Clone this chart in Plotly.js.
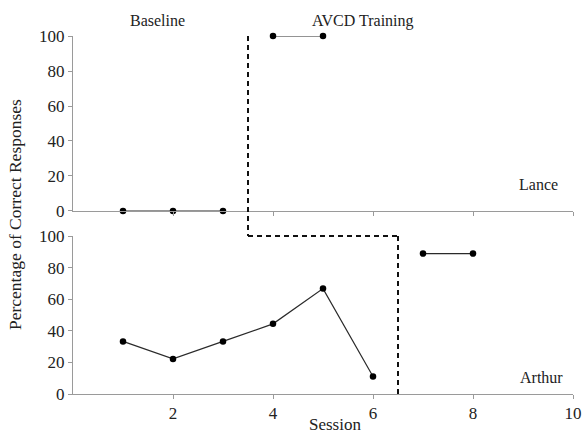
<!DOCTYPE html>
<html>
<head>
<meta charset="utf-8">
<script src="https://cdn.plot.ly/plotly-3.0.1.min.js"></script>
<style>html,body{margin:0;padding:0;background:#fff;}#chart{width:584px;height:436px;}</style>
</head>
<body>
<div id="chart"></div>
<script>
// Data
const sessions = [1, 2, 3, 4, 5, 6, 7, 8];
const lanceBaselineX = [1, 2, 3];
const lanceBaselineY = [0, 0, 0];
const lanceTrainingX = [4, 5];
const lanceTrainingY = [100, 100];
const arthurBaselineX = [1, 2, 3, 4, 5, 6];
const arthurBaselineY = [33.3, 22.2, 33.3, 44.4, 66.7, 11.1];
const arthurTrainingX = [7, 8];
const arthurTrainingY = [88.9, 88.9];
const phaseChangeLance = 3.5;
const phaseChangeArthur = 6.5;
const xTickVals = [2, 4, 6, 8, 10];
const yTickVals = [0, 20, 40, 60, 80, 100];
const phaseLabels = ["Baseline", "AVCD Training"];
const participants = ["Lance", "Arthur"];

const FONT = "Liberation Serif, Times New Roman, serif";
const axisGrey = "#9a9a9a";
const yRange = [0, 100];
const topDomain = [0.5112, 1];
const botDomain = [0, 0.4413];

function toPaper(domain, v) {
  return domain[0] + (v - yRange[0]) / (yRange[1] - yRange[0]) * (domain[1] - domain[0]);
}

function seg(x, y, xa, ya) {
  return {
    x: x, y: y, xaxis: xa, yaxis: ya, type: 'scatter', mode: 'lines+markers',
    line: {color: '#2a2a2a', width: 1.2},
    marker: {color: '#000', size: 6.5},
    cliponaxis: false, showlegend: false, hoverinfo: 'x+y'
  };
}

const traces = [
  seg(lanceBaselineX, lanceBaselineY, 'x2', 'y2'),
  seg(lanceTrainingX, lanceTrainingY, 'x2', 'y2'),
  seg(arthurBaselineX, arthurBaselineY, 'x', 'y'),
  seg(arthurTrainingX, arthurTrainingY, 'x', 'y')
];

const axisCommon = {
  showgrid: false, zeroline: false, showline: true, linecolor: axisGrey, linewidth: 1,
  ticks: 'outside', ticklen: 4, tickcolor: axisGrey, tickwidth: 1,
  tickfont: {family: FONT, size: 17, color: '#222'}
};

const dash = {color: '#111', width: 2, dash: '5px,4px'};

const layout = {
  width: 584, height: 436,
  margin: {l: 73, r: 11, t: 36, b: 42},
  paper_bgcolor: '#fff', plot_bgcolor: '#fff',
  font: {family: FONT, color: '#222'},
  xaxis: Object.assign({}, axisCommon, {
    range: [0, 10], tickvals: xTickVals, anchor: 'y'
  }),
  yaxis: Object.assign({}, axisCommon, {range: yRange, tickvals: yTickVals, domain: botDomain, anchor: 'x'}),
  xaxis2: Object.assign({}, axisCommon, {range: [0, 10], tickvals: xTickVals, showticklabels: false, anchor: 'y2', matches: 'x'}),
  yaxis2: Object.assign({}, axisCommon, {range: yRange, tickvals: yTickVals, domain: topDomain, anchor: 'x2'}),
  shapes: [
    {type: 'line', xref: 'x', yref: 'paper', x0: phaseChangeLance, x1: phaseChangeLance,
     y0: toPaper(topDomain, 100), y1: toPaper(botDomain, 100), line: dash},
    {type: 'line', xref: 'x', yref: 'paper', x0: phaseChangeLance, x1: phaseChangeArthur,
     y0: toPaper(botDomain, 100), y1: toPaper(botDomain, 100), line: dash},
    {type: 'line', xref: 'x', yref: 'paper', x0: phaseChangeArthur, x1: phaseChangeArthur,
     y0: toPaper(botDomain, 100), y1: toPaper(botDomain, 0), line: dash}
  ],
  annotations: [
    {text: 'Percentage of Correct Responses', xref: 'paper', yref: 'paper', x: -0.116, y: 0.5,
     textangle: -90, showarrow: false, xanchor: 'center', yanchor: 'middle',
     font: {family: FONT, size: 17.5, color: '#222'}},
    {text: 'Session', xref: 'x', yref: 'paper', x: 5.24, y: -0.086,
     showarrow: false, xanchor: 'center', yanchor: 'middle',
     font: {family: FONT, size: 17, color: '#222'}},
    {text: phaseLabels[0], xref: 'x', yref: 'paper', x: 1.68, y: toPaper(topDomain, 100) + 0.042,
     showarrow: false, yanchor: 'middle', font: {family: FONT, size: 16, color: '#222'}},
    {text: phaseLabels[1], xref: 'x', yref: 'paper', x: 5.8, y: toPaper(topDomain, 100) + 0.042,
     showarrow: false, yanchor: 'middle', font: {family: FONT, size: 16, color: '#222'}},
    {text: participants[0], xref: 'x', yref: 'y2', x: 9.3, y: 15, showarrow: false,
     yanchor: 'middle', font: {family: FONT, size: 16, color: '#222'}},
    {text: participants[1], xref: 'x', yref: 'y', x: 9.36, y: 10.5, showarrow: false,
     yanchor: 'middle', font: {family: FONT, size: 16, color: '#222'}}
  ]
};

Plotly.newPlot('chart', traces, layout, {displayModeBar: false, staticPlot: true});
</script>
</body>
</html>
